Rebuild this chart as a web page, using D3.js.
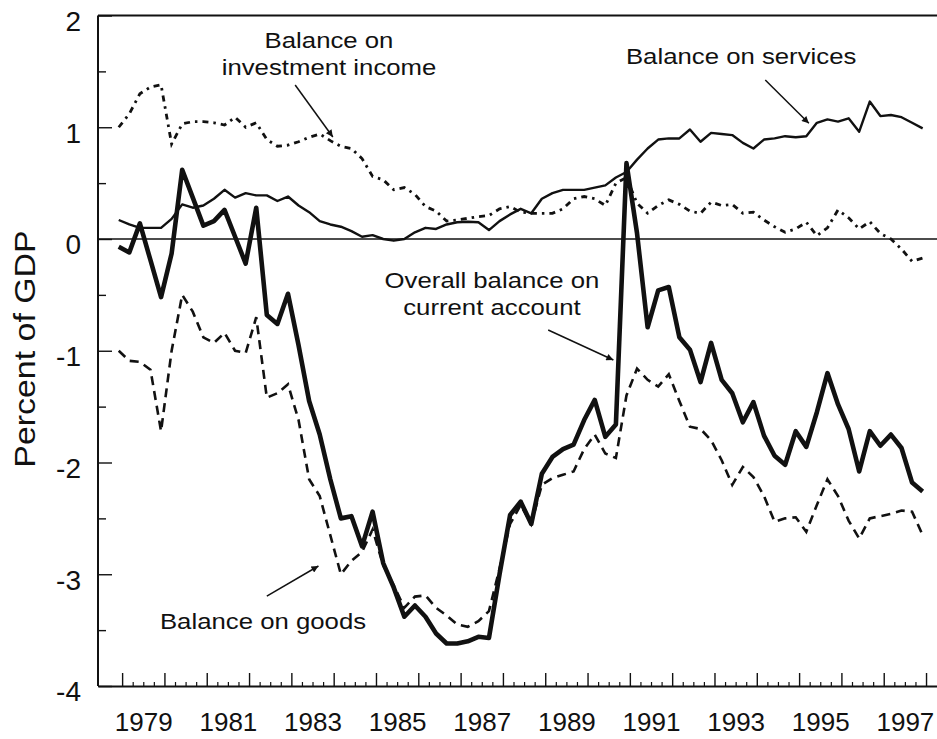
<!DOCTYPE html>
<html><head><meta charset="utf-8">
<script src="https://cdn.jsdelivr.net/npm/d3@7"></script>
<style>
html,body{margin:0;padding:0;background:#fff;}
svg{display:block;}
text{font-family:"Liberation Sans",Arial,Helvetica,sans-serif;fill:#111;}
</style></head><body>
<svg id="chart" width="937" height="739"></svg>
<script>
// Quarterly data, first observation 1979 Q1
const startYear = 1979, startQuarter = 1;

const currentAccount = [
 -0.07,-0.12, 0.14,-0.19,-0.52,-0.13, 0.62, 0.37, 0.12, 0.16,
  0.26, 0.02,-0.22, 0.28,-0.68,-0.76,-0.49,-0.95,-1.45,-1.75,
 -2.15,-2.50,-2.48,-2.75,-2.44,-2.90,-3.12,-3.38,-3.28,-3.38,
 -3.53,-3.62,-3.62,-3.60,-3.56,-3.57,-3.00,-2.47,-2.35,-2.55,
 -2.10,-1.95,-1.88,-1.84,-1.62,-1.44,-1.77,-1.66, 0.68, 0.05,
 -0.79,-0.46,-0.43,-0.88,-0.99,-1.28,-0.93,-1.26,-1.38,-1.64,
 -1.46,-1.76,-1.94,-2.02,-1.72,-1.86,-1.55,-1.20,-1.48,-1.70,
 -2.08,-1.72,-1.85,-1.75,-1.87,-2.18,-2.26];

const services = [
  0.17, 0.13, 0.10, 0.10, 0.10, 0.18, 0.31, 0.28, 0.30, 0.36,
  0.44, 0.37, 0.41, 0.39, 0.39, 0.34, 0.38, 0.30, 0.24, 0.16,
  0.13, 0.11, 0.07, 0.02, 0.035,0.00,-0.015,0.00, 0.06, 0.10,
  0.09, 0.13, 0.15, 0.155,0.15, 0.08, 0.16, 0.22, 0.27, 0.23,
  0.36, 0.41, 0.44, 0.44, 0.44, 0.46, 0.48, 0.55, 0.60, 0.71,
  0.81, 0.89, 0.90, 0.90, 0.98, 0.87, 0.95, 0.94, 0.93, 0.86,
  0.81, 0.89, 0.90, 0.92, 0.91, 0.92, 1.04, 1.07, 1.05, 1.08,
  0.96, 1.23, 1.10, 1.11, 1.09, 1.04, 0.99];

const investmentIncome = [
  1.00, 1.12, 1.30, 1.36, 1.38, 0.85, 1.03, 1.05, 1.05, 1.04,
  1.02, 1.09, 1.00, 1.04, 0.89, 0.83, 0.84, 0.87, 0.91, 0.94,
  0.88, 0.83, 0.81, 0.72, 0.56, 0.53, 0.44, 0.46, 0.40, 0.29,
  0.25, 0.16, 0.17, 0.185,0.20, 0.21, 0.27, 0.29, 0.24, 0.23,
  0.23, 0.23, 0.27, 0.36, 0.38, 0.36, 0.30, 0.50, 0.55, 0.32,
  0.23, 0.30, 0.35, 0.31, 0.25, 0.23, 0.33, 0.30, 0.31, 0.23,
  0.24, 0.17, 0.11, 0.06, 0.09, 0.15, 0.03, 0.10, 0.26, 0.19,
  0.09, 0.155,0.05, 0.00,-0.09,-0.20,-0.17];

const goods = [
 -1.00,-1.09,-1.10,-1.17,-1.72,-1.00,-0.50,-0.65,-0.88,-0.93,
 -0.84,-1.00,-1.02,-0.70,-1.42,-1.38,-1.30,-1.62,-2.15,-2.30,
 -2.65,-3.00,-2.88,-2.80,-2.60,-2.92,-3.10,-3.30,-3.20,-3.19,
 -3.30,-3.37,-3.45,-3.47,-3.42,-3.33,-2.95,-2.55,-2.38,-2.55,
 -2.20,-2.14,-2.11,-2.08,-1.88,-1.75,-1.92,-1.96,-1.40,-1.16,
 -1.26,-1.32,-1.21,-1.45,-1.68,-1.70,-1.80,-1.98,-2.20,-2.04,
 -2.13,-2.30,-2.53,-2.50,-2.49,-2.62,-2.38,-2.15,-2.30,-2.52,
 -2.68,-2.50,-2.48,-2.46,-2.43,-2.44,-2.65];

const yTickValues = [-4, -3, -2, -1, 0, 1, 2];
const yMinorValues = [-3.5, -2.5, -1.5, -0.5, 0.5, 1.5];
const tickYears = d3.range(1979, 1999);
const labelYears = [1979, 1981, 1983, 1985, 1987, 1989, 1991, 1993, 1995, 1997];
const yTitle = "Percent of GDP";

// annotations: text lines and arrows in data coordinates
const annotations = [
  {lines: ["Balance on", "investment income"], at: [1983.89, 1.71], arrow: [[1983.09, 1.378], [1983.98, 0.913]]},
  {lines: ["Balance on services"], at: [1993.63, 1.57], arrow: [[1994.20, 1.423], [1995.23, 1.035]]},
  {lines: ["Overall balance on", "current account"], at: [1987.74, -0.441], arrow: [[1989.07, -0.814], [1990.61, -1.083]]},
  {lines: ["Balance on goods"], at: [1982.33, -3.49], arrow: [[1982.42, -3.195], [1983.64, -2.926]]}
];

// ---------- drawing ----------
const svg = d3.select("#chart");
const x = d3.scaleLinear().domain([1978.43, 1998.33]).range([98, 940]);
const y = d3.scaleLinear().domain([-4, 2]).range([686, 15.5]);
const plotOffset = -0.08; // observation plotted just left of quarter start

const quarterPos = currentAccount.map((_, i) => {
  const k = startQuarter - 1 + i;
  return startYear + Math.floor(k / 4) + (k % 4) * 0.25 + plotOffset;
});

// frame
svg.append("line").attr("x1", x.range()[0]).attr("x2", x.range()[1])
  .attr("y1", y(2)).attr("y2", y(2)).attr("stroke", "#111").attr("stroke-width", 2);
svg.append("line").attr("x1", x.range()[0]).attr("x2", x.range()[0])
  .attr("y1", y(2)).attr("y2", y(-4)).attr("stroke", "#111").attr("stroke-width", 2);
// zero line
svg.append("line").attr("x1", x.range()[0]).attr("x2", x.range()[1])
  .attr("y1", y(0)).attr("y2", y(0)).attr("stroke", "#111").attr("stroke-width", 1.6);

// x axis
const xMajor = svg.append("g").attr("transform", `translate(0,${y(-4)})`)
  .call(d3.axisBottom(x).tickValues(tickYears).tickSize(-13).tickSizeOuter(0).tickFormat(""));
xMajor.select(".domain").attr("stroke", "#111").attr("stroke-width", 2);
xMajor.selectAll(".tick line").attr("stroke", "#111").attr("stroke-width", 1.4);

const quarterTicks = [];
tickYears.forEach(yr => { if (yr < 1998) [0.25, 0.5, 0.75].forEach(f => quarterTicks.push(yr + f)); });
const xMinor = svg.append("g").attr("transform", `translate(0,${y(-4)})`)
  .call(d3.axisBottom(x).tickValues(quarterTicks).tickSize(-4).tickSizeOuter(0).tickFormat(""));
xMinor.select(".domain").remove();
xMinor.selectAll(".tick line").attr("stroke", "#111").attr("stroke-width", 1.2);

const xLab = svg.append("g").attr("transform", `translate(0,${y(-4)})`)
  .call(d3.axisBottom(x).tickValues(labelYears.map(v => v + 0.5)).tickSize(0).tickPadding(27)
    .tickFormat(d => String(Math.floor(d))));
xLab.select(".domain").remove();
xLab.selectAll("text").attr("font-size", 26).attr("font-family", "Liberation Sans, Arial, sans-serif").attr("fill", "#111");

// y axis
const yMajor = svg.append("g").attr("transform", `translate(${x.range()[0]},0)`)
  .call(d3.axisLeft(y).tickValues(yTickValues).tickSize(-14).tickSizeOuter(0).tickPadding(17).tickFormat(d => String(d)));
yMajor.select(".domain").remove();
yMajor.selectAll(".tick line").attr("stroke", "#111").attr("stroke-width", 1.4);
yMajor.selectAll("text").attr("font-size", 28).attr("y", 6).attr("font-family", "Liberation Sans, Arial, sans-serif").attr("fill", "#111");

const yMinor = svg.append("g").attr("transform", `translate(${x.range()[0]},0)`)
  .call(d3.axisLeft(y).tickValues(yMinorValues).tickSize(-8).tickSizeOuter(0).tickFormat(""));
yMinor.select(".domain").remove();
yMinor.selectAll(".tick line").attr("stroke", "#111").attr("stroke-width", 1.4);

svg.append("text").attr("transform", "translate(35,349) rotate(-90) scale(1.13,1)")
  .attr("text-anchor", "middle").attr("font-size", 30).text(yTitle);

// series
const line = d3.line().x((d, i) => x(quarterPos[i])).y(d => y(d));
svg.append("path").datum(goods).attr("d", line).attr("fill", "none")
  .attr("stroke", "#111").attr("stroke-width", 2.6).attr("stroke-dasharray", "9,6");
svg.append("path").datum(investmentIncome).attr("d", line).attr("fill", "none")
  .attr("stroke", "#111").attr("stroke-width", 2.8).attr("stroke-dasharray", "6,5,2.5,5");
svg.append("path").datum(services).attr("d", line).attr("fill", "none")
  .attr("stroke", "#111").attr("stroke-width", 2.4).attr("stroke-linejoin", "round");
svg.append("path").datum(currentAccount).attr("d", line).attr("fill", "none")
  .attr("stroke", "#111").attr("stroke-width", 4.6).attr("stroke-linejoin", "round");

// arrow marker
svg.append("defs").append("marker").attr("id", "arrow").attr("viewBox", "0 0 10 10")
  .attr("refX", 10).attr("refY", 5).attr("markerWidth", 11).attr("markerHeight", 7)
  .attr("markerUnits", "userSpaceOnUse").attr("orient", "auto")
  .append("path").attr("d", "M0,0 L10,5 L0,10 Z").attr("fill", "#111");

annotations.forEach(a => {
  a.lines.forEach((t, j) => {
    svg.append("text")
      .attr("transform", `translate(${x(a.at[0])},${y(a.at[1]) + j * 27}) scale(1.12,1)`)
      .attr("text-anchor", "middle").attr("font-size", 23).text(t);
  });
  svg.append("line")
    .attr("x1", x(a.arrow[0][0])).attr("y1", y(a.arrow[0][1]))
    .attr("x2", x(a.arrow[1][0])).attr("y2", y(a.arrow[1][1]))
    .attr("stroke", "#111").attr("stroke-width", 1.5).attr("marker-end", "url(#arrow)");
});
</script>
</body></html>
